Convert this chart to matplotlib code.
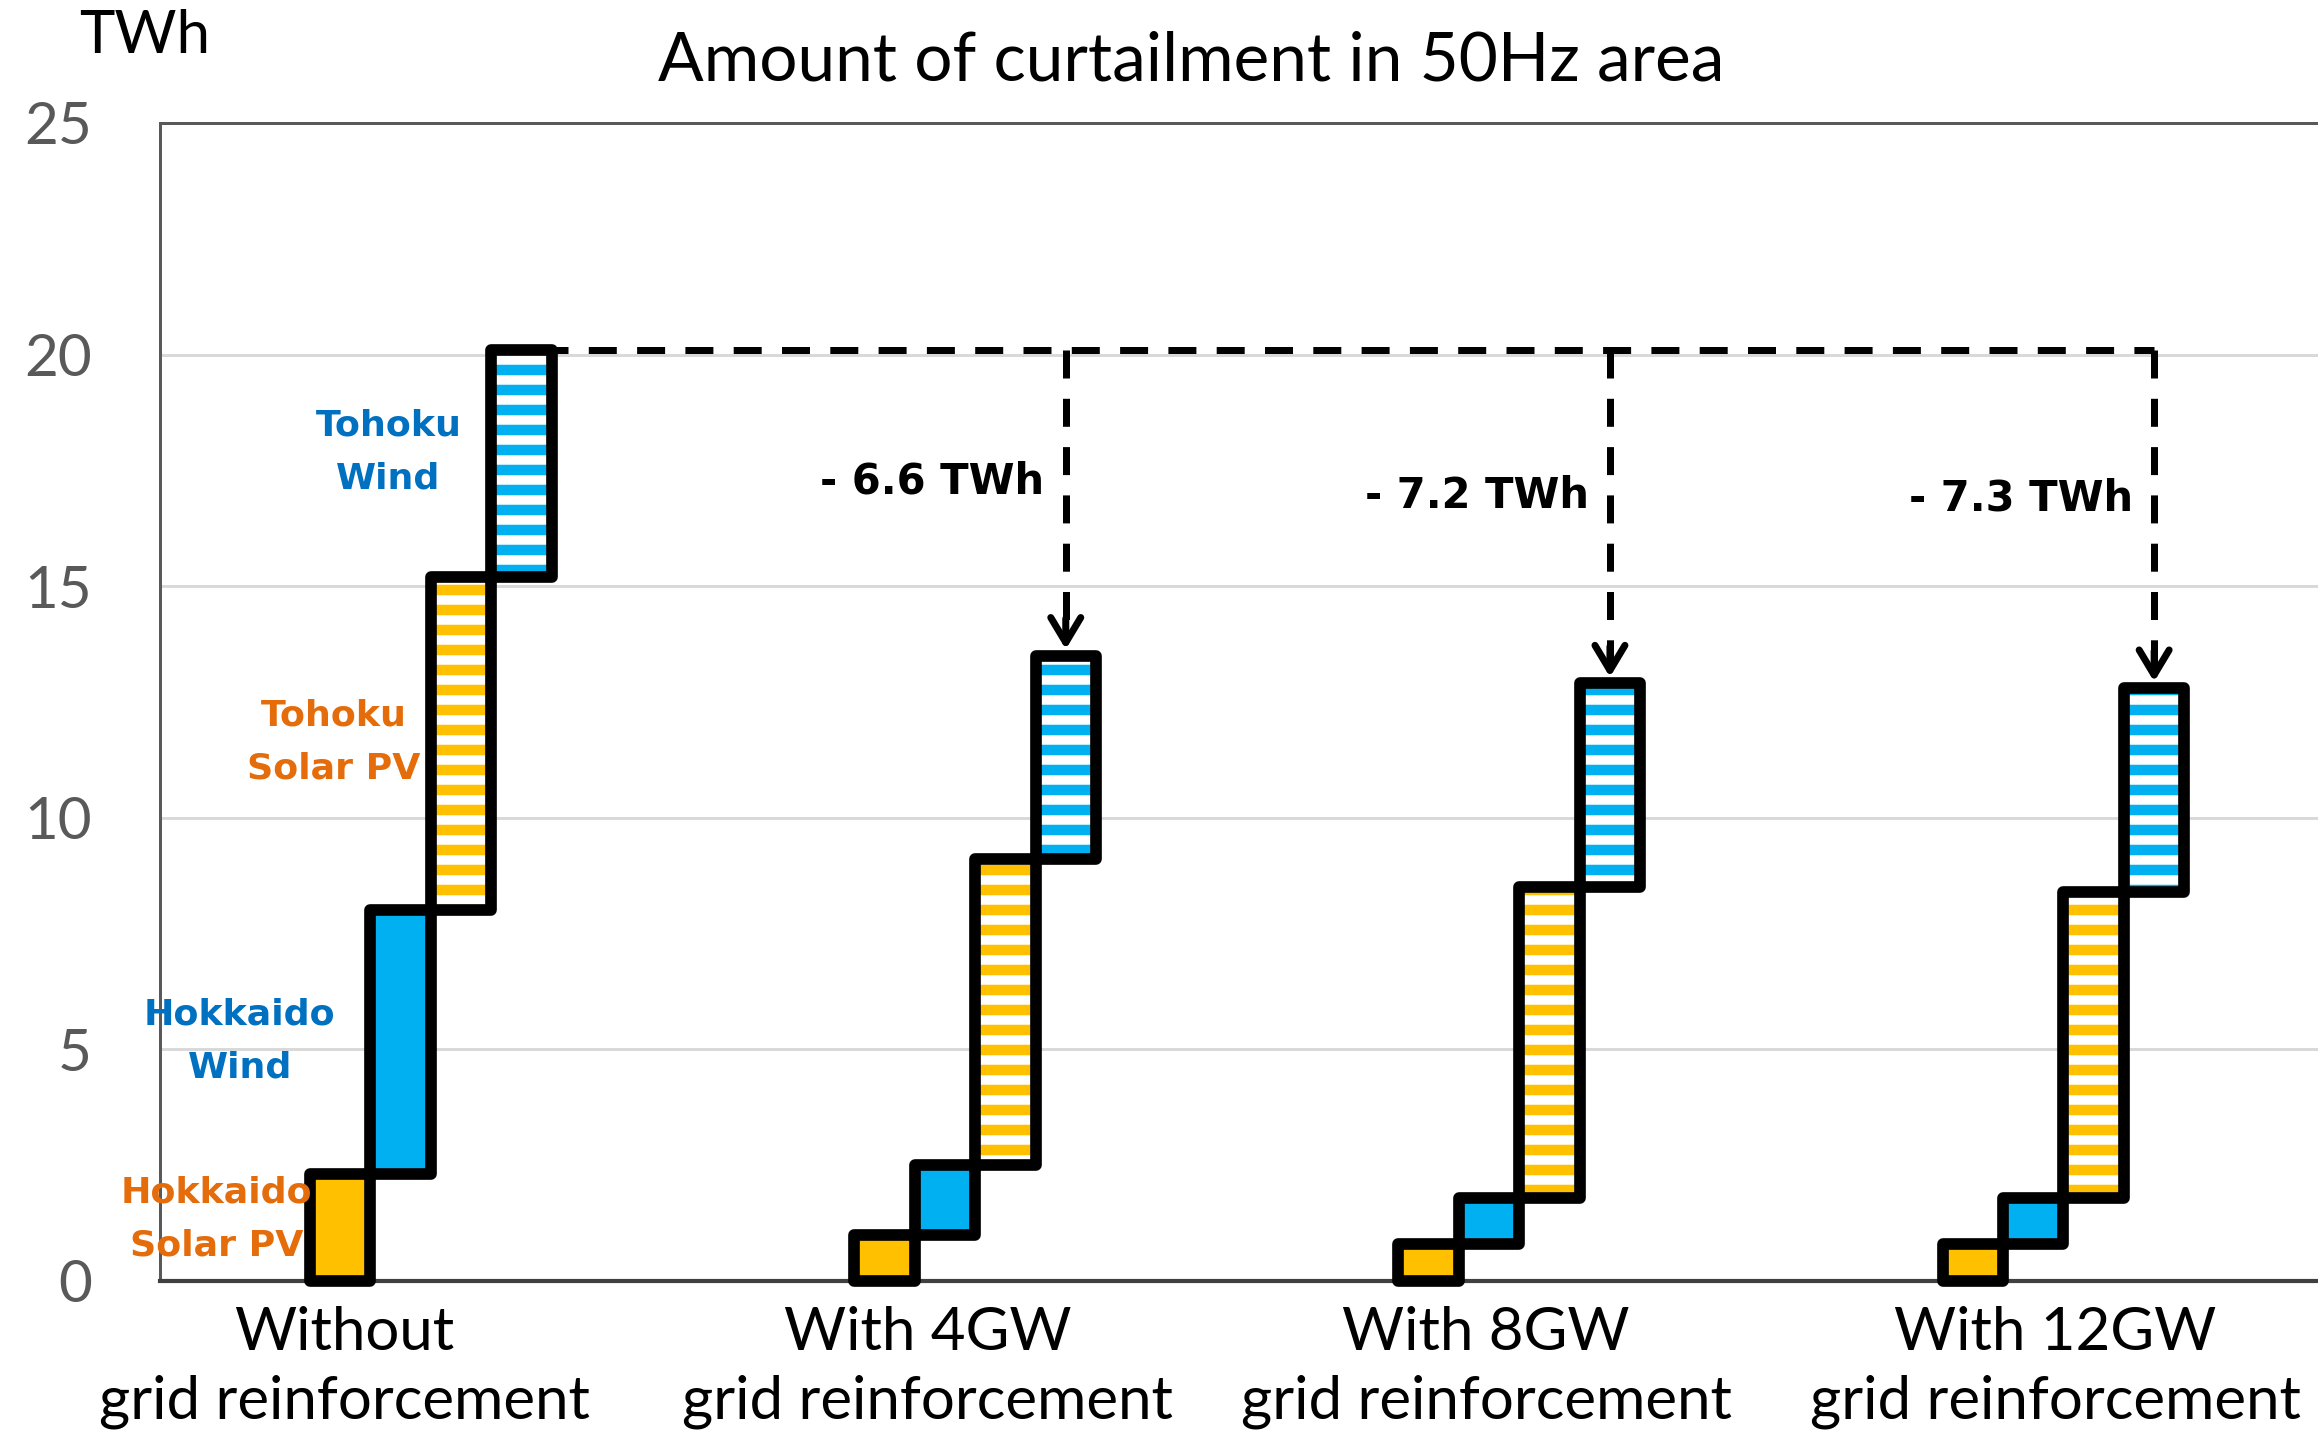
import matplotlib
matplotlib.use("Agg")
import matplotlib.pyplot as plt
import numpy as np

# ---------------- data ----------------
categories = ["Without\ngrid reinforcement", "With 4GW\ngrid reinforcement",
              "With 8GW\ngrid reinforcement", "With 12GW\ngrid reinforcement"]
hokkaido_solar = [2.3, 1.0, 0.8, 0.8]
hokkaido_wind = [5.7, 1.5, 1.0, 1.0]
tohoku_solar = [7.2, 6.6, 6.7, 6.6]
tohoku_wind = [4.9, 4.4, 4.4, 4.4]
series_names = ["Hokkaido\nSolar PV", "Hokkaido\nWind", "Tohoku\nSolar PV", "Tohoku\nWind"]
y_ticks = [0, 5, 10, 15, 20, 25]

# ---------------- style ----------------
SOLAR = "#FFC000"
WIND = "#00B0F0"
SOLAR_TXT = "#E46C0A"
WIND_TXT = "#0070C0"
DPI = 120
BORDER = 7.0
plt.rcParams["hatch.linewidth"] = 6.3
FONT = ["Lato", "DejaVu Sans"]

fig = plt.figure(figsize=(2318 / DPI, 1436 / DPI), dpi=DPI)
ax = fig.add_axes([160 / 2318, 1 - 1281 / 1436, 1 - 160 / 2318, (1281 - 123) / 1436])

group_x = np.arange(4) * 9.0
series = [(hokkaido_solar, SOLAR, False), (hokkaido_wind, WIND, False),
          (tohoku_solar, SOLAR, True), (tohoku_wind, WIND, True)]
bottom = np.zeros(4)
for i, (vals, color, striped) in enumerate(series):
    vals = np.asarray(vals)
    x = group_x + i
    if striped:
        ax.bar(x, vals, width=1.0, bottom=bottom, facecolor="white", edgecolor=color,
               hatch="-", linewidth=0, zorder=2)
    else:
        ax.bar(x, vals, width=1.0, bottom=bottom, color=color, linewidth=0, zorder=2)
    ax.bar(x, vals, width=1.0, bottom=bottom, fill=False, edgecolor="black",
           linewidth=BORDER, zorder=3, clip_on=False, joinstyle="round")
    bottom = bottom + vals
totals = bottom

# series labels (first group)
label_pos = [(-2.05, 1.34, SOLAR_TXT), (-1.66, 5.18, WIND_TXT),
             (-0.1, 11.64, SOLAR_TXT), (0.8, 17.9, WIND_TXT)]
for name, (lx, ly, c) in zip(series_names, label_pos):
    ax.text(lx, ly, name, ha="center", va="center", color=c, fontsize=21.8,
            fontweight="bold", family="DejaVu Sans", linespacing=1.72, zorder=6)

# reduction arrows
dash = (0, (4, 2.9))
x_start = group_x[0] + 3 + 0.3
x_end = group_x[-1] + 3
ax.plot([x_start, x_end], [totals[0], totals[0]], color="black", lw=4.2, ls=dash,
        zorder=4, solid_capstyle="butt", dash_capstyle="butt")
for g in range(1, 4):
    xg = group_x[g] + 3
    ax.plot([xg, xg], [totals[0], totals[g] + 0.45], color="black", lw=4.2, ls=dash,
            zorder=4, dash_capstyle="butt")
    ax.annotate("", xy=(xg, totals[g]), xytext=(xg, totals[g] + 0.8),
                arrowprops=dict(arrowstyle="->,head_length=15,head_width=9",
                                mutation_scale=1, lw=4.2, color="black",
                                shrinkA=0, shrinkB=3.8), zorder=5)
    red = totals[0] - totals[g]
    ax.text(xg - 0.35, (totals[0] + totals[g]) / 2 + 0.45, f"- {red:.1f} TWh",
            ha="right", va="center", fontsize=25, fontweight="bold",
            family="DejaVu Sans", color="black", zorder=6)

# axes
ax.set_xlim(-2.98, 32.71)
ax.set_ylim(0, 25)
ax.set_yticks(y_ticks)
ax.set_yticklabels([str(t) for t in y_ticks], family=FONT, fontsize=35, color="#595959")
ax.yaxis.grid(True, color="#D9D9D9", lw=1.8)
ax.set_axisbelow(True)
tick_x = [0.07, 9.71, 18.95, 28.36]
ax.set_xticks(tick_x)
ax.set_xticklabels(categories, family=FONT, fontsize=36, color="black", linespacing=1.32)
ax.tick_params(axis="both", length=0)
ax.tick_params(axis="y", pad=41)
ax.tick_params(axis="x", pad=15)
for s in ["top", "left"]:
    ax.spines[s].set_color("#595959")
    ax.spines[s].set_linewidth(1.8)
ax.spines["bottom"].set_color("#404040")
ax.spines["bottom"].set_linewidth(2.5)
ax.spines["right"].set_visible(False)

fig.text(0.514, 0.957, "Amount of curtailment in 50Hz area", ha="center", va="center",
         fontsize=40.5, family=FONT, color="black")
fig.text(0.0626, 0.975, "TWh", ha="center", va="center", fontsize=36, family=FONT,
         color="black")

fig.savefig("out.png", dpi=DPI)
